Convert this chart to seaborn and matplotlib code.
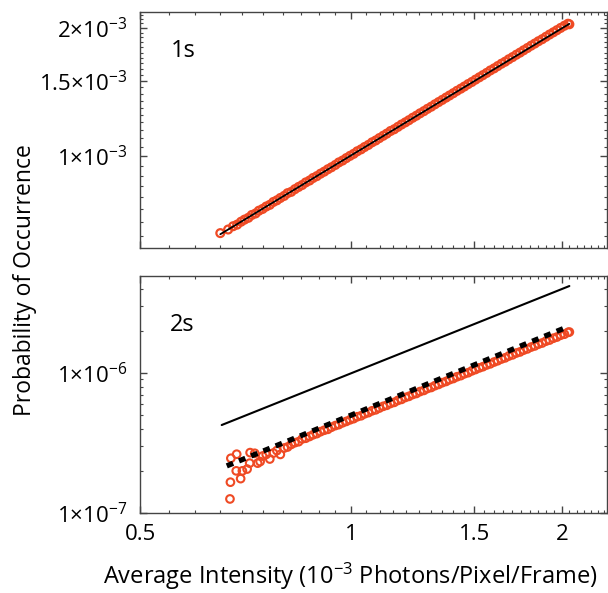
"""Probability of occurrence vs average intensity, 1s and 2s panels."""

import matplotlib

matplotlib.use("Agg")
import matplotlib.pyplot as plt
import pandas as pd
import seaborn as sns
from matplotlib.ticker import FixedLocator, LogLocator, MultipleLocator, NullFormatter

# average intensity (10^-3 photons/pixel/frame)
x_1s = [
    0.651, 0.668, 0.679, 0.688, 0.697, 0.705, 0.714, 0.722, 0.731, 0.739,
    0.748, 0.757, 0.766, 0.775, 0.784, 0.793, 0.803, 0.812, 0.822, 0.832,
    0.842, 0.852, 0.862, 0.873, 0.883, 0.894, 0.905, 0.916, 0.927, 0.938,
    0.950, 0.961, 0.973, 0.985, 0.997, 1.009, 1.021, 1.034, 1.046, 1.059,
    1.072, 1.085, 1.098, 1.112, 1.125, 1.139, 1.153, 1.167, 1.181, 1.196,
    1.210, 1.225, 1.240, 1.255, 1.271, 1.286, 1.302, 1.318, 1.334, 1.350,
    1.367, 1.383, 1.400, 1.417, 1.435, 1.452, 1.470, 1.488, 1.506, 1.525,
    1.543, 1.562, 1.581, 1.601, 1.620, 1.640, 1.660, 1.680, 1.701, 1.722,
    1.743, 1.764, 1.786, 1.808, 1.830, 1.852, 1.875, 1.898, 1.921, 1.945,
    1.968, 1.992, 2.017, 2.041, 2.050,
]
# probability, 1s (x 1e-3)
p_1s = [
    0.659, 0.672, 0.684, 0.690, 0.701, 0.709, 0.716, 0.727, 0.733, 0.744,
    0.751, 0.761, 0.768, 0.780, 0.787, 0.797, 0.806, 0.818, 0.824, 0.836,
    0.846, 0.855, 0.867, 0.876, 0.888, 0.897, 0.909, 0.919, 0.931, 0.941,
    0.953, 0.966, 0.976, 0.989, 1.001, 1.012, 1.026, 1.037, 1.050, 1.062,
    1.077, 1.088, 1.102, 1.116, 1.129, 1.145, 1.156, 1.171, 1.186, 1.200,
    1.214, 1.230, 1.244, 1.260, 1.275, 1.291, 1.306, 1.323, 1.339, 1.355,
    1.372, 1.388, 1.405, 1.423, 1.440, 1.457, 1.476, 1.493, 1.512, 1.531,
    1.549, 1.568, 1.589, 1.607, 1.627, 1.648, 1.666, 1.688, 1.708, 1.730,
    1.750, 1.772, 1.794, 1.817, 1.838, 1.861, 1.882, 1.906, 1.930, 1.953,
    1.976, 2.000, 2.024, 2.046, 2.040,
]

x_2s = [
    0.672, 0.673, 0.674, 0.686, 0.687, 0.696, 0.700, 0.711, 0.717, 0.718,
    0.729, 0.736, 0.742,
    0.748, 0.757, 0.766, 0.775, 0.784, 0.793, 0.803, 0.812, 0.822, 0.832,
    0.842, 0.852, 0.862, 0.873, 0.883, 0.894, 0.905, 0.916, 0.927, 0.938,
    0.950, 0.961, 0.973, 0.985, 0.997, 1.009, 1.021, 1.034, 1.046, 1.059,
    1.072, 1.085, 1.098, 1.112, 1.125, 1.139, 1.153, 1.167, 1.181, 1.196,
    1.210, 1.225, 1.240, 1.255, 1.271, 1.286, 1.302, 1.318, 1.334, 1.350,
    1.367, 1.383, 1.400, 1.417, 1.435, 1.452, 1.470, 1.488, 1.506, 1.525,
    1.543, 1.562, 1.581, 1.601, 1.620, 1.640, 1.660, 1.680, 1.701, 1.722,
    1.743, 1.764, 1.786, 1.808, 1.830, 1.852, 1.875, 1.898, 1.921, 1.945,
    1.968, 1.992, 2.017, 2.041, 2.050,
]
# probability, 2s (x 1e-6)
p_2s = [
    0.126, 0.166, 0.246, 0.200, 0.263, 0.176, 0.200, 0.206, 0.227, 0.270,
    0.267, 0.227, 0.233,
    0.255, 0.262, 0.243, 0.268, 0.279, 0.262, 0.291, 0.296, 0.309, 0.318,
    0.323, 0.338, 0.342, 0.352, 0.362, 0.369, 0.381, 0.390, 0.396, 0.410,
    0.421, 0.428, 0.441, 0.451, 0.463, 0.472, 0.487, 0.495, 0.511, 0.521,
    0.537, 0.546, 0.562, 0.578, 0.588, 0.606, 0.617, 0.637, 0.648, 0.669,
    0.681, 0.702, 0.714, 0.737, 0.751, 0.775, 0.788, 0.812, 0.829, 0.853,
    0.870, 0.896, 0.913, 0.940, 0.958, 0.987, 1.005, 1.036, 1.059, 1.088,
    1.109, 1.141, 1.163, 1.198, 1.224, 1.259, 1.283, 1.322, 1.348, 1.389,
    1.414, 1.457, 1.487, 1.532, 1.561, 1.607, 1.638, 1.688, 1.719, 1.772,
    1.806, 1.861, 1.893, 1.951, 1.962,
]

# fit lines (end points)
fit_1s_x = [0.651, 2.050]
fit_1s_y = [0.655, 2.045]
fit_2s_x = [0.665, 2.040]
fit_2s_y = [0.217, 2.140]
ref_2s_x = [0.654, 2.050]
ref_2s_y = [0.425, 4.180]

ORANGE = "#EF4A24"

sns.set_style("ticks")
plt.rcParams["font.family"] = ["Open Sans", "DejaVu Sans"]
plt.rcParams["mathtext.fontset"] = "custom"
plt.rcParams["mathtext.rm"] = "Open Sans"
plt.rcParams["mathtext.default"] = "regular"
plt.rcParams["text.color"] = "black"
plt.rcParams["xtick.labelcolor"] = "black"
plt.rcParams["ytick.labelcolor"] = "black"

fig = plt.figure(figsize=(6.08, 5.93), dpi=100)
ax1 = fig.add_axes([140 / 608, 1 - 248 / 593, 467 / 608, 236 / 593])
ax2 = fig.add_axes([140 / 608, 1 - 513 / 593, 467 / 608, 237 / 593])

df1 = pd.DataFrame({"x": x_1s, "p": [v * 1e-3 for v in p_1s]})
df2 = pd.DataFrame({"x": x_2s, "p": [v * 1e-6 for v in p_2s]})

sns.scatterplot(data=df1, x="x", y="p", ax=ax1, marker="o", s=32,
                facecolor="none", edgecolor=ORANGE, linewidth=1.6, zorder=2)
sns.lineplot(x=fit_1s_x, y=[v * 1e-3 for v in fit_1s_y], ax=ax1,
             color="black", lw=1.3, zorder=3)

sns.scatterplot(data=df2, x="x", y="p", ax=ax2, marker="o", s=30,
                facecolor="none", edgecolor=ORANGE, linewidth=1.5, zorder=2)
sns.lineplot(x=fit_2s_x, y=[v * 1e-6 for v in fit_2s_y], ax=ax2,
             color="black", lw=3.8, dashes=(1.3, 1.2), zorder=3)
sns.lineplot(x=ref_2s_x, y=[v * 1e-6 for v in ref_2s_y], ax=ax2,
             color="black", lw=1.5, zorder=3)

for ax in (ax1, ax2):
    ax.set_xscale("log")
    ax.set_yscale("log")
    ax.set_xlim(0.5, 2.32)
    ax.xaxis.set_major_locator(FixedLocator([0.5, 1, 1.5, 2]))
    ax.xaxis.set_minor_locator(MultipleLocator(0.05))
    ax.xaxis.set_minor_formatter(NullFormatter())
    ax.set_xlabel("")
    ax.set_ylabel("")
    ax.tick_params(which="both", direction="in", top=True, right=True,
                   color="#444444", labelcolor="black", labelsize=16)
    ax.tick_params(which="major", length=5, width=1)
    ax.tick_params(which="minor", length=2.5, width=0.8)
    ax.tick_params(axis="y", pad=9)
    ax.tick_params(axis="x", pad=8)
    for sp in ax.spines.values():
        sp.set_color("#444444")
        sp.set_linewidth(1.0)

ax1.set_ylim(0.608e-3, 2.18e-3)
ax1.yaxis.set_major_locator(FixedLocator([1e-3, 1.5e-3, 2e-3]))
ax1.yaxis.set_major_formatter(plt.FixedFormatter(
    ["1×10$^{-3}$", "1.5×10$^{-3}$", "2×10$^{-3}$"]))
ax1.yaxis.set_minor_locator(MultipleLocator(0.05e-3))
ax1.yaxis.set_minor_formatter(NullFormatter())
ax1.set_xticklabels([])

ax2.set_ylim(1e-7, 4.93e-6)
ax2.yaxis.set_major_locator(FixedLocator([1e-7, 1e-6]))
ax2.yaxis.set_major_formatter(plt.FixedFormatter(["1×10$^{-7}$", "1×10$^{-6}$"]))
ax2.yaxis.set_minor_locator(LogLocator(base=10, subs=range(2, 10)))
ax2.yaxis.set_minor_formatter(NullFormatter())
ax2.set_xticklabels(["0.5", "1", "1.5", "2"])

ax1.text(0.065, 0.81, "1s", transform=ax1.transAxes, fontsize=17, color="black")
ax2.text(0.065, 0.77, "2s", transform=ax2.transAxes, fontsize=17, color="black")

fig.text(350 / 608, 1 - 576 / 593, "Average Intensity (10$^{-3}$ Photons/Pixel/Frame)",
         ha="center", va="center", fontsize=17, color="black")
fig.text(25 / 608, 1 - 280 / 593, "Probability of Occurrence", rotation=90,
         ha="center", va="center", fontsize=16.5, color="black")

fig.savefig("out.png", dpi=100)
plt.close(fig)
